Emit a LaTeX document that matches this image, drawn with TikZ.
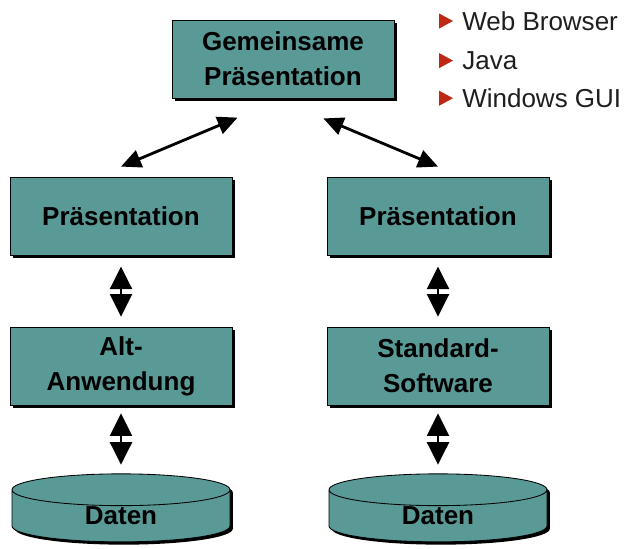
\documentclass[tikz,border=0pt]{standalone}
\usepackage{fontspec}
\setmainfont{Liberation Sans}
\usepackage{xcolor}
\usepackage{tikz}
\usetikzlibrary{calc, arrows.meta, shapes.geometric, shadows}

\definecolor{boxteal}{RGB}{89,153,150}
\definecolor{bulletred}{RGB}{190,40,20}
\definecolor{listgray}{RGB}{30,30,30}

\tikzset{
    layer/.style={rectangle, draw=black, line width=0.6pt, fill=boxteal,
        minimum width=5.55cm, minimum height=1.95cm, align=center,
        font=\fontsize{18.5}{25}\selectfont\bfseries,
        drop shadow={shadow xshift=0.07cm, shadow yshift=-0.07cm, fill=black, opacity=1}},
    store/.style={cylinder, shape border rotate=90, aspect=0.44, draw=black, line width=0.6pt,
        fill=boxteal, minimum width=5.45cm, minimum height=1.7cm, inner sep=0pt,
        font=\fontsize{18.5}{25}\selectfont\bfseries,
        drop shadow={shadow xshift=0.07cm, shadow yshift=-0.07cm, fill=black, opacity=1}},
    updown/.style={{Triangle[width=0.55cm,length=0.56cm]}-{Triangle[width=0.55cm,length=0.56cm]}, line width=1.5pt},
    link/.style={{Triangle[width=0.45cm,length=0.5cm]}-{Triangle[width=0.45cm,length=0.5cm]}, line width=2pt},
    item/.style={anchor=base west, inner sep=0pt, text=listgray, font=\fontsize{18.5}{22}\selectfont}
}

\begin{document}
\begin{tikzpicture}

        \useasboundingbox (0,0) rectangle (15.8,-13.7);

        %% Top
        \node (gem) [layer] at (7.075,-1.475) {Gemeinsame\\Pr\"asentation};

        %% Left column
        \node (lpres) [layer] at (3.025,-5.4) {Pr\"asentation};
        \node (alt) [layer] at (3.025,-9.15) {Alt-\\Anwendung};
        \node (ldata) [store] at (3.025,-12.9) {Daten};

        %% Right column
        \node (rpres) [layer] at (10.95,-5.4) {Pr\"asentation};
        \node (std) [layer] at (10.95,-9.15) {Standard-\\Software};
        \node (rdata) [store] at (10.95,-12.9) {Daten};

        %% Arrows
        \draw [link] ($(lpres.north)+(0,0.25)$) -- ($(gem.south west)+(1.65,-0.48)$);
        \draw [link] ($(gem.south east)+(-1.775,-0.5)$) -- ($(rpres.north)+(0,0.25)$);
        \draw [updown, shorten <=0.28cm, shorten >=0.25cm] (lpres.south) -- (alt.north);
        \draw [updown, shorten <=0.28cm, shorten >=0.25cm] (rpres.south) -- (std.north);
        \draw [updown, shorten <=0.2cm, shorten >=0.22cm] (alt.south) -- (ldata.north);
        \draw [updown, shorten <=0.2cm, shorten >=0.22cm] (std.south) -- (rdata.north);

        %% Clients
        \node (web) [item] at (11.55,-0.75) {Web Browser};
        \node (java) [item] at (11.55,-1.74) {Java};
        \node (win) [item] at (11.55,-2.68) {Windows GUI};
        \fill [bulletred] ($(web.base west)+(-0.575,0.415)$) -- ++(0.35,-0.19) -- ++(-0.35,-0.19) -- cycle;
        \fill [bulletred] ($(java.base west)+(-0.575,0.415)$) -- ++(0.35,-0.19) -- ++(-0.35,-0.19) -- cycle;
        \fill [bulletred] ($(win.base west)+(-0.575,0.415)$) -- ++(0.35,-0.19) -- ++(-0.35,-0.19) -- cycle;

\end{tikzpicture}
\end{document}
